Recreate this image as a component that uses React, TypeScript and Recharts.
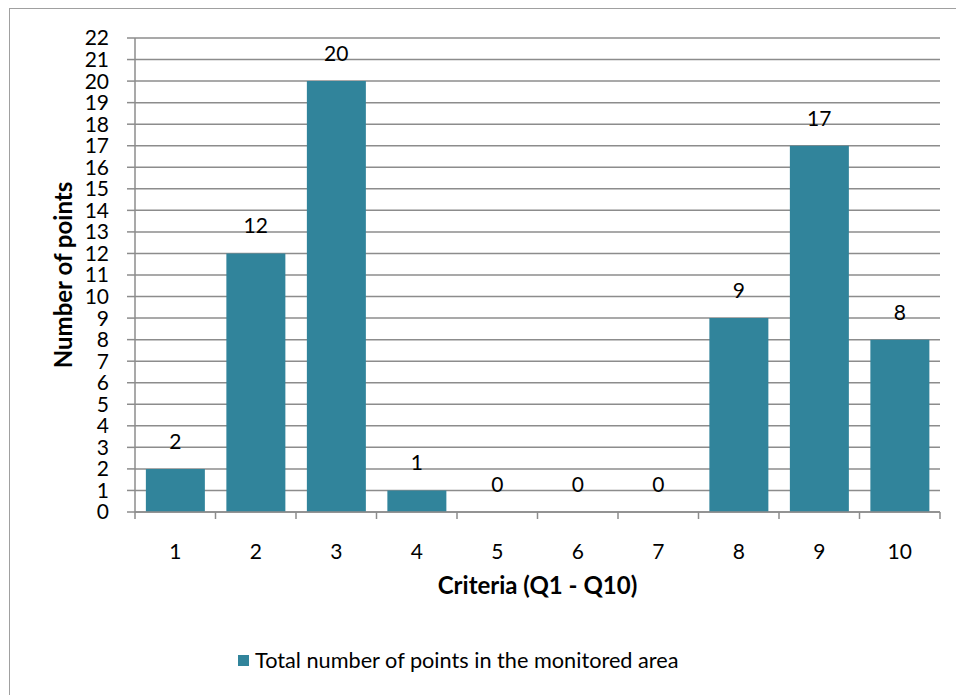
import React from "react";
import { ComposedChart, Bar, Line, XAxis, YAxis, CartesianGrid, LabelList, Legend, Label } from "recharts";

const criteria = ["1", "2", "3", "4", "5", "6", "7", "8", "9", "10"];
const points = [2, 12, 20, 1, 0, 0, 0, 9, 17, 8];
const yTicks = [0, 1, 2, 3, 4, 5, 6, 7, 8, 9, 10, 11, 12, 13, 14, 15, 16, 17, 18, 19, 20, 21, 22];
const seriesName = "Total number of points in the monitored area";
const xTitle = "Criteria (Q1 - Q10)";
const yTitle = "Number of points";

const data = criteria.map((c, i) => ({ name: c, value: points[i] }));

const FONT = "Lato, 'Noto Sans', sans-serif";
const BAR = "#31849B";
const GRID = "#8c8c8c";
const X_TICK_MARGIN = 32;
const X_TICK_LEN = 7;

const LegendContent = () => (
  <div style={{ display: "flex", alignItems: "center", fontFamily: FONT, fontSize: 21.7, color: "#000", whiteSpace: "nowrap" }}>
    <span style={{ display: "inline-block", width: 11, height: 11, background: BAR, marginRight: 6 }} />
    <span>{seriesName}</span>
  </div>
);

const XTick = (props: any) => {
  const { x, y, payload, index, visibleTicksCount, width } = props;
  const band = width / visibleTicksCount;
  const axisY = y - X_TICK_MARGIN;
  const left = x - band / 2;
  const right = x + band / 2;
  return (
    <g>
      <line x1={left} x2={left} y1={axisY} y2={axisY + X_TICK_LEN} stroke={GRID} strokeWidth={1.5} />
      {index === visibleTicksCount - 1 && (
        <line x1={right} x2={right} y1={axisY} y2={axisY + X_TICK_LEN} stroke={GRID} strokeWidth={1.5} />
      )}
      <text x={x} y={y} dy="0.71em" textAnchor="middle" fontFamily={FONT} fontSize={21} fill="#000">
        {payload.value}
      </text>
    </g>
  );
};

export default function App() {
  return (
    <div style={{ position: "absolute", left: 0, top: 0, width: 956, height: 695, background: "#fff", overflow: "hidden" }}>
      <div style={{ position: "absolute", left: 9, top: 8, width: 1000, height: 800, border: "1.5px solid #a0a0a0", boxSizing: "border-box" }} />
      <div style={{ position: "absolute", left: 0, top: 0 }}>
        <ComposedChart
          width={956}
          height={695}
          data={data}
          margin={{ top: 38, right: 16, bottom: 93, left: 0 }}
          barCategoryGap="13.5%"
        >
          <CartesianGrid vertical={false} stroke={GRID} strokeWidth={1.5} />
          <XAxis
            dataKey="name"
            height={90}
            interval={0}
            tickLine={false}
            tickSize={0}
            tickMargin={X_TICK_MARGIN}
            axisLine={{ stroke: GRID, strokeWidth: 1.5 }}
            tick={<XTick />}
          >
            <Label
              content={(props: any) => {
                const vb = props.viewBox || {};
                return (
                  <text x={vb.x + vb.width / 2} y={vb.y + 82} textAnchor="middle" fontFamily={FONT} fontSize={24} fontWeight="bold" fill="#000">
                    {xTitle}
                  </text>
                );
              }}
            />
          </XAxis>
          <YAxis
            width={135}
            domain={[0, 22]}
            ticks={yTicks}
            interval={0}
            tickSize={8}
            tickMargin={18}
            axisLine={{ stroke: GRID, strokeWidth: 1.5 }}
            tickLine={{ stroke: GRID, strokeWidth: 1.5 }}
            tick={{ fontFamily: FONT, fontSize: 21, fill: "#000" }}
          >
            <Label
              content={(props: any) => {
                const vb = props.viewBox || {};
                const cx = 62;
                const cy = vb.y + vb.height / 2;
                return (
                  <text x={cx} y={cy} transform={`rotate(-90, ${cx}, ${cy})`} textAnchor="middle" dominantBaseline="central" fontFamily={FONT} fontSize={24} fontWeight="bold" fill="#000">
                    {yTitle}
                  </text>
                );
              }}
            />
          </YAxis>
          <Legend
            layout="horizontal"
            verticalAlign="middle"
            align="center"
            content={<LegendContent />}
            wrapperStyle={{ position: "absolute", left: 238, top: 647, width: "auto" }}
          />
          <Bar dataKey="value" name={seriesName} fill={BAR} isAnimationActive={false} />
          <Line
            dataKey="value"
            stroke="none"
            dot={false}
            activeDot={false}
            legendType="none"
            isAnimationActive={false}
          >
            <LabelList dataKey="value" position="top" offset={20} fill="#000" fontFamily={FONT} fontSize={21} />
          </Line>
        </ComposedChart>
      </div>
    </div>
  );
}
